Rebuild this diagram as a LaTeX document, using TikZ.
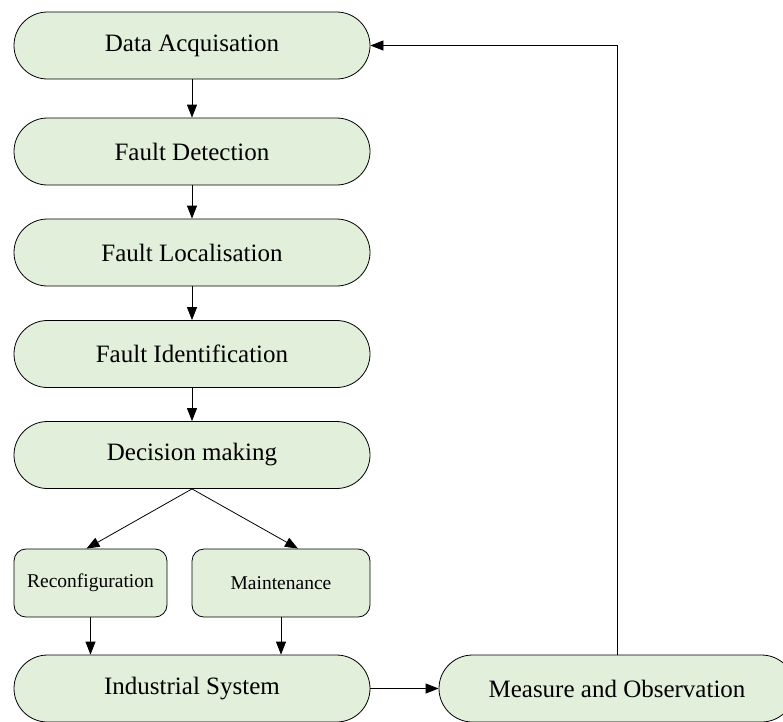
\documentclass[tikz,border=0pt]{standalone}
\usepackage{fontspec}
\setmainfont{Liberation Serif}
\usetikzlibrary{arrows.meta,calc}
\definecolor{boxfill}{RGB}{226,239,218}
\begin{document}
\begin{tikzpicture}[x=1pt,y=-1pt,line width=0.8pt,
  pill/.style={draw=black,fill=boxfill,rectangle,rounded corners=33.5pt,
    minimum width=356pt,minimum height=67pt,inner sep=0pt,font=\fontsize{25}{28}\selectfont},
  smallbox/.style={draw=black,fill=boxfill,rectangle,rounded corners=12pt,
    minimum height=68pt,inner sep=0pt,font=\fontsize{19.5}{22}\selectfont},
  arr/.style={-{Triangle[length=13pt,width=10pt]}}]
\useasboundingbox (0,0) rectangle (783,721);
\clip (0,0) rectangle (783,721);
\node[pill] (acq) at (192,45.5) {Data Acquisation};
\node[pill] (det) at (192,151.5) {Fault Detection};
\node[pill] (loc) at (192,252.5) {Fault Localisation};
\node[pill] (ide) at (192,354) {Fault Identification};
\node[pill] (dec) at (192,455) {Decision making};
\node[smallbox,minimum width=153pt] (rec) at (90.5,583) {Reconfiguration};
\node[smallbox,minimum width=178pt] (mai) at (281,583) {Maintenance};
\node[pill] (ind) at (192,688.5) {Industrial System};
\node[pill] (mea) at (617,688.5) {Measure and Observation};
\draw[arr] (acq) -- (det);
\draw[arr] (det) -- (loc);
\draw[arr] (loc) -- (ide);
\draw[arr] (ide) -- (dec);
\draw[arr] (dec.south) -- ($(rec.north)+(-4,0)$);
\draw[arr] (dec.south) -- ($(mai.north)+(17,0)$);
\draw[arr] (rec.south) -- (rec.south |- ind.north);
\draw[arr] (mai.south) -- (mai.south |- ind.north);
\draw[arr] (ind) -- (mea);
\draw[arr] (mea.north) |- (acq.east);
\end{tikzpicture}
\end{document}
